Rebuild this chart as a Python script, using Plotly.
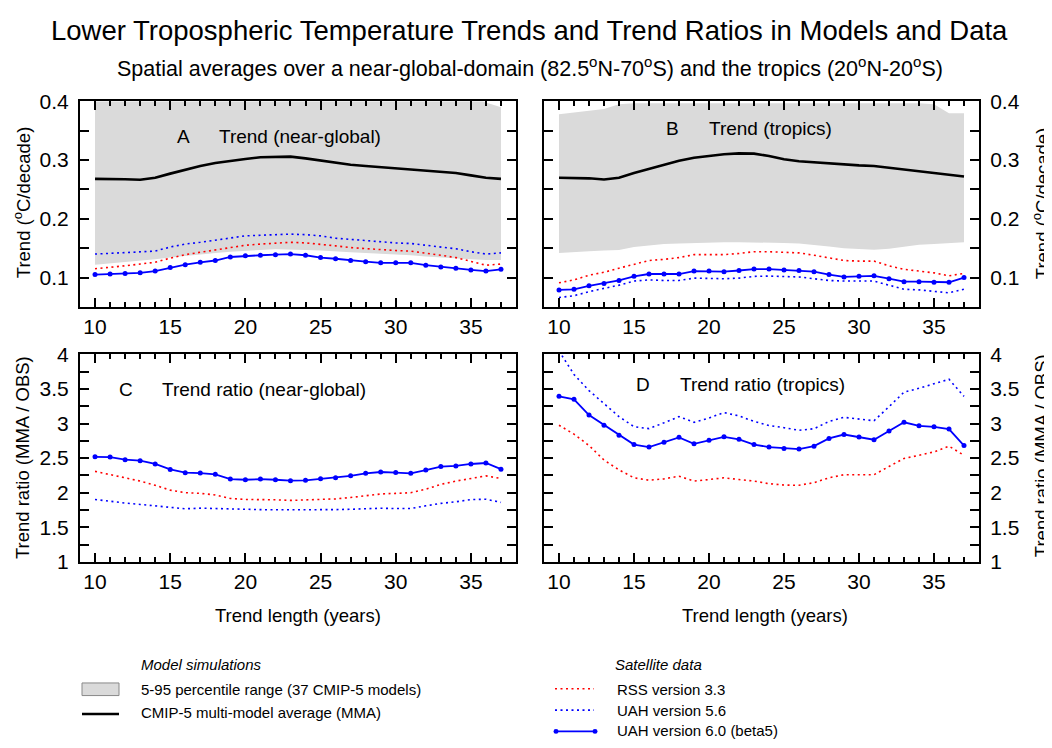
import plotly.graph_objects as go

# ---------------- data ----------------
years = list(range(10, 38))

# Panel A: near-global trends (degC/decade)
A_upper = [0.41]*26 + [0.398, 0.39]
A_lower = [0.122, 0.124, 0.126, 0.128, 0.131, 0.134, 0.137, 0.140, 0.142, 0.144, 0.146, 0.147, 0.148, 0.148,
           0.147, 0.146, 0.144, 0.143, 0.142, 0.141, 0.139, 0.138, 0.136, 0.134, 0.132, 0.131, 0.130, 0.130]
A_mma = [0.268, 0.268, 0.2675, 0.2665, 0.270, 0.277, 0.284, 0.290, 0.295, 0.299, 0.302, 0.305, 0.306, 0.306,
         0.303, 0.299, 0.295, 0.292, 0.290, 0.288, 0.287, 0.285, 0.283, 0.281, 0.278, 0.274, 0.270, 0.268]
A_rss = [0.115, 0.117, 0.120, 0.123, 0.126, 0.133, 0.139, 0.143, 0.147, 0.151, 0.155, 0.157, 0.159, 0.160,
         0.159, 0.157, 0.154, 0.151, 0.149, 0.147, 0.146, 0.145, 0.142, 0.138, 0.134, 0.128, 0.121, 0.123]
A_uah56 = [0.140, 0.141, 0.142, 0.143, 0.145, 0.152, 0.157, 0.160, 0.164, 0.167, 0.171, 0.172, 0.173, 0.174,
           0.173, 0.171, 0.167, 0.165, 0.162, 0.160, 0.159, 0.158, 0.155, 0.153, 0.149, 0.144, 0.140, 0.142]
A_uah60 = [0.105, 0.106, 0.107, 0.108, 0.111, 0.117, 0.122, 0.126, 0.129, 0.135, 0.137, 0.138, 0.139, 0.140,
           0.138, 0.134, 0.132, 0.129, 0.127, 0.125, 0.125, 0.125, 0.121, 0.118, 0.116, 0.113, 0.111, 0.114]

# Panel B: tropics trends
B_upper = [0.378, 0.381, 0.384, 0.387, 0.395, 0.397, 0.397, 0.397, 0.397, 0.397, 0.397, 0.397, 0.397, 0.397,
           0.397, 0.397, 0.397, 0.397, 0.397, 0.397, 0.397, 0.397, 0.397, 0.397, 0.397, 0.395, 0.380, 0.380]
B_lower = [0.142, 0.144, 0.145, 0.146, 0.147, 0.152, 0.155, 0.157, 0.158, 0.159, 0.160, 0.160, 0.160, 0.160,
           0.160, 0.159, 0.158, 0.156, 0.153, 0.150, 0.149, 0.1475, 0.149, 0.153, 0.156, 0.157, 0.159, 0.160]
B_mma = [0.270, 0.270, 0.269, 0.267, 0.270, 0.278, 0.285, 0.292, 0.299, 0.304, 0.307, 0.310, 0.3115, 0.311,
         0.307, 0.3015, 0.298, 0.296, 0.294, 0.292, 0.291, 0.290, 0.287, 0.284, 0.281, 0.277, 0.274, 0.272]
B_rss = [0.091, 0.096, 0.104, 0.109, 0.116, 0.123, 0.129, 0.131, 0.134, 0.139, 0.139, 0.139, 0.141, 0.144,
         0.144, 0.143, 0.142, 0.138, 0.133, 0.129, 0.128, 0.128, 0.120, 0.114, 0.111, 0.108, 0.103, 0.107]
B_uah56 = [0.066, 0.069, 0.076, 0.081, 0.087, 0.094, 0.096, 0.095, 0.095, 0.099, 0.098, 0.098, 0.099, 0.102,
           0.1025, 0.102, 0.101, 0.098, 0.095, 0.094, 0.094, 0.094, 0.087, 0.080, 0.079, 0.076, 0.074, 0.080]
B_uah60 = [0.079, 0.080, 0.086, 0.090, 0.095, 0.102, 0.106, 0.106, 0.106, 0.111, 0.111, 0.110, 0.112, 0.1145,
           0.1145, 0.113, 0.112, 0.110, 0.105, 0.101, 0.102, 0.103, 0.098, 0.093, 0.093, 0.092, 0.092, 0.100]

# Panel C: near-global trend ratios (MMA / OBS)
C_rss = [2.308, 2.26, 2.215, 2.168, 2.107, 2.037, 2.00, 1.99, 1.967, 1.916, 1.902, 1.902, 1.897, 1.888,
         1.892, 1.902, 1.91, 1.93, 1.958, 1.981, 1.99, 2.0, 2.05, 2.12, 2.167, 2.205, 2.243, 2.205]
C_uah56 = [1.902, 1.874, 1.85, 1.83, 1.81, 1.78, 1.767, 1.776, 1.77, 1.76, 1.75, 1.755, 1.752, 1.75,
           1.75, 1.75, 1.755, 1.76, 1.77, 1.775, 1.77, 1.77, 1.81, 1.845, 1.868, 1.90, 1.905, 1.86]
C_uah60 = [2.519, 2.515, 2.477, 2.463, 2.415, 2.336, 2.289, 2.284, 2.266, 2.196, 2.187, 2.196, 2.187, 2.173,
           2.178, 2.20, 2.215, 2.243, 2.28, 2.299, 2.29, 2.28, 2.327, 2.378, 2.387, 2.415, 2.429, 2.34]

# Panel D: tropics trend ratios
D_rss = [2.976, 2.846, 2.682, 2.472, 2.33, 2.215, 2.18, 2.20, 2.238, 2.168, 2.19, 2.215, 2.19, 2.168,
         2.13, 2.11, 2.107, 2.145, 2.215, 2.26, 2.26, 2.26, 2.379, 2.495, 2.54, 2.59, 2.673, 2.54]
D_uah56 = [4.05, 3.71, 3.477, 3.29, 3.10, 2.954, 2.926, 3.01, 3.10, 3.018, 3.08, 3.159, 3.11, 3.03,
           2.972, 2.94, 2.902, 2.925, 3.03, 3.09, 3.065, 3.04, 3.243, 3.453, 3.51, 3.58, 3.64, 3.393]
D_uah60 = [3.393, 3.35, 3.122, 2.976, 2.832, 2.696, 2.659, 2.729, 2.80, 2.706, 2.757, 2.808, 2.771, 2.696,
           2.659, 2.64, 2.631, 2.673, 2.785, 2.841, 2.804, 2.766, 2.892, 3.018, 2.967, 2.953, 2.92, 2.682]

trend_ticks = [0.1, 0.2, 0.3, 0.4]
trend_labels = ["0.1", "0.2", "0.3", "0.4"]
ratio_ticks = [1, 1.5, 2, 2.5, 3, 3.5, 4]
ratio_labels = ["1", "1.5", "2", "2.5", "3", "3.5", "4"]
x_ticks = [10, 15, 20, 25, 30, 35]

# ---------------- styles ----------------
W, H = 1052, 748
OFF = 8  # page body margin: the figure starts 8 px right and down of the window corner
FONT = "Liberation Sans, Arial, sans-serif"
GRAY = "#dadada"
RED = "#ff0000"
BLUE = "#0000ff"
DOT = "2px,3.5px"


def px(x):
    return (x - OFF) / W


def py(y):
    return 1 - (y - OFF) / H


fig = go.Figure()


def add_panel(xa, ya, upper, lower, mma, rss, uah56, uah60):
    if upper is not None:
        fig.add_trace(go.Scatter(x=years, y=lower, mode="lines", line=dict(width=0, color=GRAY),
                                 xaxis=xa, yaxis=ya, showlegend=False, hoverinfo="skip"))
        fig.add_trace(go.Scatter(x=years, y=upper, mode="lines", line=dict(width=0, color=GRAY),
                                 fill="tonexty", fillcolor=GRAY, xaxis=xa, yaxis=ya, showlegend=False,
                                 hoverinfo="skip"))
        fig.add_trace(go.Scatter(x=years, y=mma, mode="lines", line=dict(width=2.6, color="black"),
                                 xaxis=xa, yaxis=ya, showlegend=False))
    fig.add_trace(go.Scatter(x=years, y=rss, mode="lines", line=dict(width=1.6, color=RED, dash=DOT),
                             xaxis=xa, yaxis=ya, showlegend=False))
    fig.add_trace(go.Scatter(x=years, y=uah56, mode="lines", line=dict(width=1.6, color=BLUE, dash=DOT),
                             xaxis=xa, yaxis=ya, showlegend=False))
    fig.add_trace(go.Scatter(x=years, y=uah60, mode="lines+markers", line=dict(width=1.8, color=BLUE),
                             marker=dict(size=5, color=BLUE), xaxis=xa, yaxis=ya, showlegend=False,
                             cliponaxis=True))


add_panel("x", "y", A_upper, A_lower, A_mma, A_rss, A_uah56, A_uah60)
add_panel("x2", "y2", B_upper, B_lower, B_mma, B_rss, B_uah56, B_uah60)
add_panel("x3", "y3", None, None, None, C_rss, C_uah56, C_uah60)
add_panel("x4", "y4", None, None, None, D_rss, D_uah56, D_uah60)

common = dict(showline=True, linecolor="black", linewidth=2, mirror="ticks", ticks="inside",
              tickcolor="black", tickwidth=1.5, showgrid=False, zeroline=False,
              tickfont=dict(family=FONT, size=21, color="black"))

xcommon = dict(common, range=[9, 38], tickmode="array", tickvals=x_ticks, ticklen=9,
               minor=dict(dtick=1, ticklen=5, ticks="inside", tickcolor="black", tickwidth=1.5, showgrid=False))

dom_left = [px(80), px(516)]
dom_right = [px(544), px(979)]
dom_top = [py(304), py(92)]
dom_bot = [py(567), py(353)]

ytrend = dict(common, range=[0.05, 0.4], tickmode="array", tickvals=trend_ticks, ticktext=trend_labels,
              ticklen=9, minor=dict(tick0=0.05, dtick=0.05, ticklen=9, ticks="inside", tickcolor="black",
                                    tickwidth=1.5, showgrid=False))
yratio = dict(common, range=[1, 4], tickmode="array", tickvals=ratio_ticks, ticktext=ratio_labels,
              ticklen=9, minor=dict(tick0=1, dtick=0.25, ticklen=9, ticks="inside", tickcolor="black",
                                    tickwidth=1.5, showgrid=False))

fig.update_layout(
    width=W, height=H,
    margin=dict(l=0, r=0, t=0, b=0),
    paper_bgcolor="white", plot_bgcolor="white",
    font=dict(family=FONT, color="black"),
    xaxis=dict(xcommon, domain=dom_left, anchor="y"),
    yaxis=dict(ytrend, domain=dom_top, anchor="x", side="left", ticklabelstandoff=5),
    xaxis2=dict(xcommon, domain=dom_right, anchor="y2"),
    yaxis2=dict(ytrend, domain=dom_top, anchor="x2", side="right", ticklabelstandoff=5),
    xaxis3=dict(xcommon, domain=dom_left, anchor="y3"),
    yaxis3=dict(yratio, domain=dom_bot, anchor="x3", side="left", ticklabelstandoff=5),
    xaxis4=dict(xcommon, domain=dom_right, anchor="y4"),
    yaxis4=dict(yratio, domain=dom_bot, anchor="x4", side="right", ticklabelstandoff=5),
    showlegend=False,
)

ann = []


def text(x, y, s, size, xanchor="center", angle=0, italic=False):
    f = dict(family=FONT, size=size, color="black")
    if italic:
        f["style"] = "italic"
    ann.append(dict(x=px(x), y=py(y), xref="paper", yref="paper", text=s, showarrow=False,
                    xanchor=xanchor, yanchor="middle", textangle=angle, font=f))


text(529, 19, "Lower Tropospheric Temperature Trends and Trend Ratios in Models and Data", 27.5)
text(530, 56, "Spatial averages over a near-global-domain (82.5<sup>o</sup>N-70<sup>o</sup>S) and the tropics "
              "(20<sup>o</sup>N-20<sup>o</sup>S)", 21.5)

text(183, 128, "A", 19)
text(217, 128, "Trend (near-global)", 19, xanchor="left")
text(672, 120, "B", 19)
text(707, 120, "Trend (tropics)", 19, xanchor="left")
text(126, 389, "C", 19)
text(160, 389, "Trend ratio (near-global)", 19, xanchor="left")
text(643, 384, "D", 19)
text(678, 384, "Trend ratio (tropics)", 19, xanchor="left")

ytitle = "Trend (<sup>o</sup>C/decade)"
text(22, 196, ytitle, 18.5, angle=-90)
text(1041, 197, ytitle, 18.5, angle=-90)
text(22, 460, "Trend ratio (MMA / OBS)", 18.5, angle=-90)
text(1041, 458, "Trend ratio (MMA / OBS)", 18.5, angle=-90)
text(298, 622, "Trend length (years)", 18.5)
text(765, 622, "Trend length (years)", 18.5)

# legend
text(139, 673, "Model simulations", 15, xanchor="left", italic=True)
text(139, 699, "5-95 percentile range (37 CMIP-5 models)", 15, xanchor="left")
text(139, 722, "CMIP-5 multi-model average (MMA)", 15, xanchor="left")
text(613, 673, "Satellite data", 15, xanchor="left", italic=True)
text(615, 699, "RSS version 3.3", 15, xanchor="left")
text(615, 720, "UAH version 5.6", 15, xanchor="left")
text(615, 741, "UAH version 6.0 (beta5)", 15, xanchor="left")

shapes = [
    dict(type="rect", xref="paper", yref="paper", x0=px(82), x1=px(119), y0=py(705), y1=py(692),
         fillcolor=GRAY, line=dict(color="#888888", width=1)),
    dict(type="line", xref="paper", yref="paper", x0=px(82), x1=px(119), y0=py(724), y1=py(724),
         line=dict(color="black", width=2.6)),
    dict(type="line", xref="paper", yref="paper", x0=px(555), x1=px(594), y0=py(698), y1=py(698),
         line=dict(color=RED, width=1.6, dash=DOT)),
    dict(type="line", xref="paper", yref="paper", x0=px(555), x1=px(594), y0=py(720), y1=py(720),
         line=dict(color=BLUE, width=1.6, dash=DOT)),
    dict(type="line", xref="paper", yref="paper", x0=px(556), x1=px(595), y0=py(742), y1=py(742),
         line=dict(color=BLUE, width=1.8)),
]
for cx in (556, 595):
    shapes.append(dict(type="circle", xref="paper", yref="paper", x0=px(cx - 2.5), x1=px(cx + 2.5),
                       y0=py(744.5), y1=py(739.5), fillcolor=BLUE, line=dict(color=BLUE, width=0)))

fig.update_layout(annotations=ann, shapes=shapes)

fig.write_html("out.html")
